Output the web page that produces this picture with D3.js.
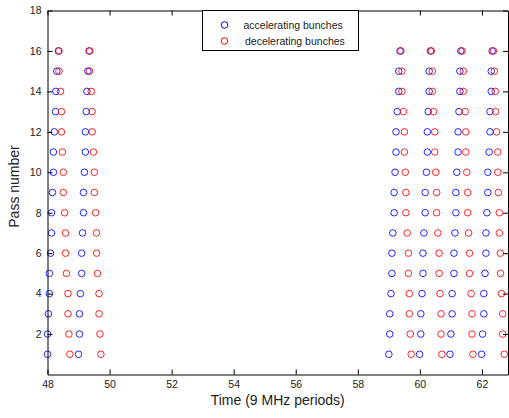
<!DOCTYPE html>
<html>
<head>
<meta charset="utf-8">
<script src="https://cdn.jsdelivr.net/npm/d3@7"></script>
<style>
body { margin: 0; background: #fff; }
svg { display: block; }
text { font-family: "Liberation Sans", Arial, sans-serif; fill: #222; }
</style>
</head>
<body>
<svg id="chart" width="509" height="418"></svg>
<script>
// Pass numbers
const passes = [1,2,3,4,5,6,7,8,9,10,11,12,13,14,15,16];
// Arrival times (9 MHz periods), pass 1..16, per bunch group
const accelerating = [
  [48.00,48.00,48.03,48.06,48.06,48.10,48.13,48.13,48.16,48.19,48.19,48.22,48.26,48.27,48.30,48.35],
  [49.00,49.03,49.03,49.06,49.10,49.10,49.13,49.16,49.16,49.19,49.22,49.22,49.25,49.27,49.30,49.34],
  [59.00,59.03,59.03,59.07,59.10,59.10,59.13,59.17,59.17,59.20,59.23,59.23,59.27,59.32,59.32,59.36],
  [59.99,60.03,60.03,60.07,60.10,60.10,60.13,60.17,60.17,60.21,60.24,60.24,60.27,60.30,60.30,60.34],
  [60.97,61.00,61.04,61.04,61.10,61.10,61.13,61.16,61.16,61.19,61.23,61.23,61.26,61.29,61.29,61.32],
  [61.99,62.02,62.06,62.06,62.10,62.13,62.13,62.16,62.19,62.19,62.23,62.26,62.26,62.30,62.30,62.33]
];
const decelerating = [
  [48.72,48.69,48.66,48.66,48.61,48.58,48.58,48.55,48.51,48.51,48.48,48.45,48.45,48.42,48.37,48.37],
  [49.72,49.69,49.66,49.66,49.61,49.58,49.58,49.55,49.51,49.51,49.48,49.44,49.44,49.41,49.35,49.36],
  [59.72,59.69,59.66,59.66,59.63,59.63,59.59,59.55,59.55,59.53,59.50,59.50,59.47,59.42,59.42,59.39],
  [60.71,60.68,60.68,60.65,60.62,60.62,60.58,60.54,60.54,60.51,60.48,60.48,60.44,60.40,60.40,60.37],
  [61.71,61.68,61.68,61.65,61.60,61.60,61.57,61.54,61.54,61.51,61.48,61.48,61.46,61.40,61.40,61.36],
  [62.72,62.67,62.67,62.63,62.60,62.59,62.56,62.56,62.53,62.51,62.51,62.47,62.44,62.43,62.40,62.37]
];
const xTicks = [48,50,52,54,56,58,60,62];
const yTicks = [2,4,6,8,10,12,14,16,18];
const legendLabels = ["accelerating bunches", "decelerating bunches"];
const colors = ["#0000ff", "#ff0000"];

const svg = d3.select("#chart");
const L = 47.5, R = 508, T = 10.5, B = 374.5;
const x = d3.scaleLinear().domain([48, 62.84]).range([L, R]);
const y = d3.scaleLinear().domain([0, 18]).range([B, T]);

// points
const series = [accelerating, decelerating];
series.forEach((groups, si) => {
  const pts = [];
  groups.forEach(g => g.forEach((v, i) => pts.push({t: v, p: passes[i]})));
  svg.append("g").selectAll("circle").data(pts).enter().append("circle")
    .attr("cx", d => x(d.t)).attr("cy", d => y(d.p)).attr("r", 3.3)
    .attr("fill", "none").attr("stroke", colors[si]).attr("stroke-width", 1)
    .attr("opacity", 0.85);
});

// axes
const tickLen = 5;
const gx = svg.append("g").attr("transform", `translate(0,${B})`)
  .call(d3.axisBottom(x).tickValues(xTicks).tickSize(-tickLen).tickPadding(5).tickSizeOuter(0));
const gxt = svg.append("g").attr("transform", `translate(0,${T})`)
  .call(d3.axisTop(x).tickValues(xTicks).tickSize(-tickLen).tickFormat("").tickSizeOuter(0));
const gy = svg.append("g").attr("transform", `translate(${L},0)`)
  .call(d3.axisLeft(y).tickValues(yTicks).tickSize(-tickLen).tickPadding(6).tickSizeOuter(0));
const gyr = svg.append("g").attr("transform", `translate(${R},0)`)
  .call(d3.axisRight(y).tickValues(yTicks).tickSize(-tickLen).tickFormat("").tickSizeOuter(0));
[gx, gxt, gy, gyr].forEach(g => {
  g.selectAll("path").attr("stroke", "#000").attr("stroke-width", 1);
  g.selectAll("line").attr("stroke", "#000");
  g.selectAll("text").attr("font-size", 10.5).attr("fill", "#222")
    .attr("font-family", "'Liberation Sans', Arial, sans-serif");
});
gx.selectAll("text").attr("dy", "0.85em");

// axis labels
svg.append("text").attr("x", (L + R) / 2).attr("y", 405).attr("text-anchor", "middle")
  .attr("font-size", 14).text("Time (9 MHz periods)");
svg.append("text").attr("transform", `translate(19,${(T + B) / 2 - 6}) rotate(-90)`)
  .attr("text-anchor", "middle").attr("font-size", 14).text("Pass number");

// legend
const lg = svg.append("g");
lg.append("rect").attr("x", 202.5).attr("y", T).attr("width", 156).attr("height", 40)
  .attr("fill", "#fff").attr("stroke", "#000").attr("stroke-width", 1);
legendLabels.forEach((lab, i) => {
  const cy = 25 + i * 16;
  lg.append("circle").attr("cx", 224.5).attr("cy", cy).attr("r", 3.3)
    .attr("fill", "none").attr("stroke", colors[i]).attr("stroke-width", 1);
  lg.append("text").attr("x", 243.5 + i * 1.5).attr("y", cy + 3.5)
    .attr("font-size", 10.5).text(lab);
});
</script>
</body>
</html>
